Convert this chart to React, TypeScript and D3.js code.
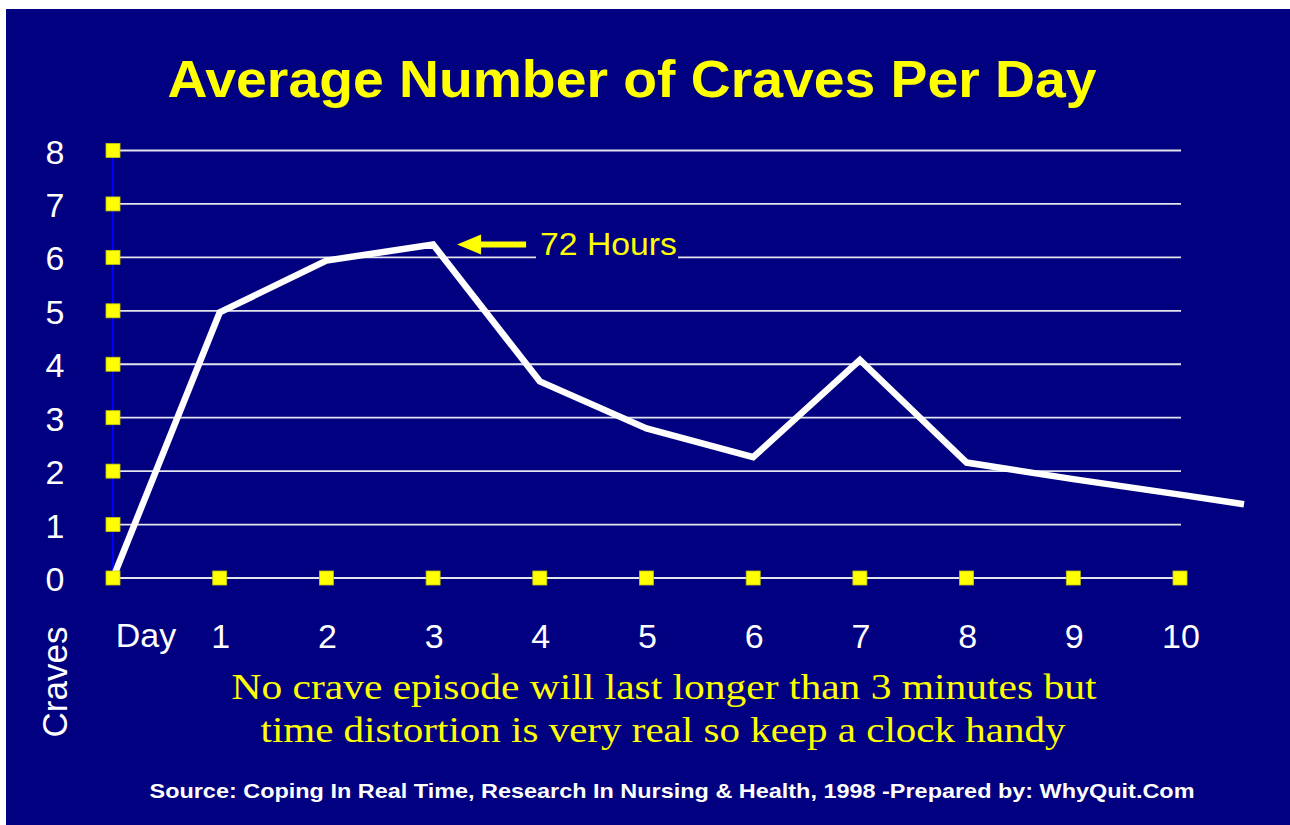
import React from "react";
import * as d3 from "d3";

const days = [0, 1, 2, 3, 4, 5, 6, 7, 8, 9, 10, 10.6];
const craves = [0, 4.97, 5.94, 6.24, 3.68, 2.8, 2.26, 4.08, 2.16, 1.85, 1.56, 1.38];
const yTicks = [0, 1, 2, 3, 4, 5, 6, 7, 8];
const xTicks = [1, 2, 3, 4, 5, 6, 7, 8, 9, 10];
const title = "Average Number of Craves Per Day";
const note1 = "No crave episode will last longer than 3 minutes but";
const note2 = "time distortion is very real so keep a clock handy";
const source = "Source: Coping In Real Time, Research In Nursing & Health, 1998 -Prepared by: WhyQuit.Com";

const NAVY = "#000080";
const YELLOW = "#ffff00";
const SANS = "'Liberation Sans', Arial, sans-serif";
const SERIF = "'Liberation Serif', 'Times New Roman', serif";

export default function App() {
  const x = d3.scaleLinear().domain([0, 10]).range([113, 1180]);
  const y = d3.scaleLinear().domain([0, 8]).range([578, 150.5]);
  const line = d3
    .line<number>()
    .x((_, i) => x(days[i]))
    .y((d) => y(d));
  const ax = x(3);
  const ay = y(6.24);
  return (
    <svg
      width={1290}
      height={825}
      style={{ position: "absolute", left: 0, top: 0, background: "#fff" }}
    >
      <rect x={6} y={9} width={1284} height={816} fill={NAVY} />
      <text
        x={632}
        y={97}
        textAnchor="middle"
        fill={YELLOW}
        fontFamily={SANS}
        fontWeight="bold"
        fontSize={52}
        textLength={929}
        lengthAdjust="spacingAndGlyphs"
      >
        {title}
      </text>
      {yTicks.map((t) => (
        <line
          key={"g" + t}
          x1={x(0)}
          x2={x(10) + 1}
          y1={y(t)}
          y2={y(t)}
          stroke="#e4e4ee"
          strokeWidth={1.8}
        />
      ))}
      <line x1={x(0)} x2={x(0)} y1={y(8)} y2={y(0)} stroke="#0000ff" strokeWidth={2} />
      {yTicks.map((t) => (
        <text
          key={"yl" + t}
          x={55}
          y={y(t) + 13}
          textAnchor="middle"
          fill="#fff"
          fontFamily={SANS}
          fontSize={34}
        >
          {t}
        </text>
      ))}
      {xTicks.map((t) => (
        <text
          key={"xl" + t}
          x={x(t) + 1}
          y={648}
          textAnchor="middle"
          fill="#fff"
          fontFamily={SANS}
          fontSize={34}
        >
          {t}
        </text>
      ))}
      <text x={146} y={647} textAnchor="middle" fill="#fff" fontFamily={SANS} fontSize={34}>
        Day
      </text>
      <text
        transform="translate(67,682) rotate(-90)"
        textAnchor="middle"
        fill="#fff"
        fontFamily={SANS}
        fontSize={35}
      >
        Craves
      </text>
      <rect x={536} y={240} width={142} height={20} fill={NAVY} />
      <path
        d={line(craves) || ""}
        fill="none"
        stroke="#fff"
        strokeWidth={6.5}
        strokeLinejoin="miter"
      />
      {yTicks.map((t) => (
        <rect
          key={"ys" + t}
          x={x(0) - 7}
          y={y(t) - 7}
          width={14}
          height={14}
          fill={YELLOW}
          stroke="#c8c800"
          strokeWidth={0.8}
        />
      ))}
      {xTicks.map((t) => (
        <rect
          key={"xs" + t}
          x={x(t) - 7}
          y={y(0) - 7}
          width={14}
          height={14}
          fill={YELLOW}
          stroke="#c8c800"
          strokeWidth={0.8}
        />
      ))}
      <g fill={YELLOW}>
        <path
          d={`M${ax + 24},${ay} L${ax + 48},${ay - 10} L${ax + 48},${ay - 3} L${ax + 93},${ay - 3} L${ax + 93},${ay + 3} L${ax + 48},${ay + 3} L${ax + 48},${ay + 10} Z`}
        />
        <text
          x={540}
          y={255}
          fontFamily={SANS}
          fontSize={31}
          textLength={137}
          lengthAdjust="spacingAndGlyphs"
        >
          72 Hours
        </text>
      </g>
      <text
        x={664}
        y={699}
        textAnchor="middle"
        fill={YELLOW}
        fontFamily={SERIF}
        fontSize={36}
        textLength={865}
        lengthAdjust="spacingAndGlyphs"
      >
        {note1}
      </text>
      <text
        x={663}
        y={742}
        textAnchor="middle"
        fill={YELLOW}
        fontFamily={SERIF}
        fontSize={36}
        textLength={805}
        lengthAdjust="spacingAndGlyphs"
      >
        {note2}
      </text>
      <text
        x={672}
        y={798}
        textAnchor="middle"
        fill="#fff"
        fontFamily={SANS}
        fontWeight="bold"
        fontSize={21}
        textLength={1045}
        lengthAdjust="spacingAndGlyphs"
      >
        {source}
      </text>
    </svg>
  );
}
